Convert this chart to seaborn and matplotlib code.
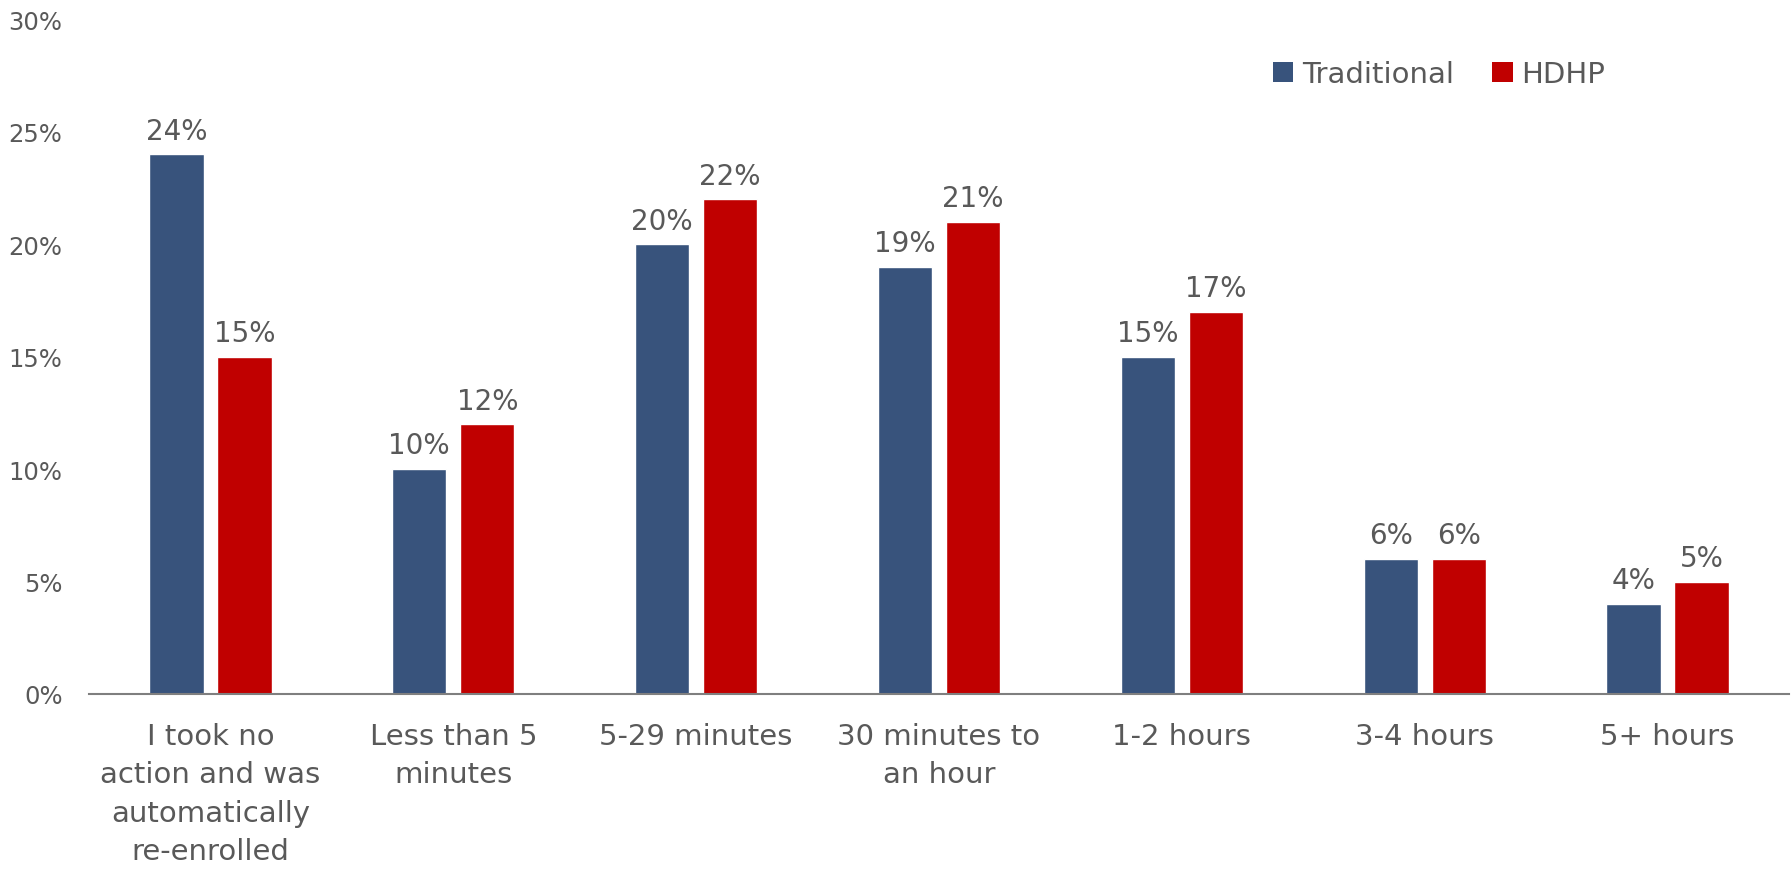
import matplotlib
matplotlib.use("Agg")
import matplotlib.pyplot as plt
import seaborn as sns
import pandas as pd
from matplotlib.patches import Patch

categories = [
    "I took no\naction and was\nautomatically\nre-enrolled",
    "Less than 5\nminutes",
    "5-29 minutes",
    "30 minutes to\nan hour",
    "1-2 hours",
    "3-4 hours",
    "5+ hours",
]
traditional = [24, 10, 20, 19, 15, 6, 4]
hdhp = [15, 12, 22, 21, 17, 6, 5]
series_names = ["Traditional", "HDHP"]
y_ticks = [0, 5, 10, 15, 20, 25, 30]

df = pd.DataFrame({
    "category": categories * 2,
    "plan": [series_names[0]] * len(categories) + [series_names[1]] * len(categories),
    "pct": traditional + hdhp,
})

sns.set_theme(style="white")
plt.rcParams["font.family"] = ["DejaVu Sans"]
text_color = "#595959"

fig = plt.figure(figsize=(17.92, 8.70), dpi=100)
ax = fig.add_axes([89 / 1792, (870 - 695) / 870, (1789 - 89) / 1792, (695 - 20.6) / 870])

palette = {"Traditional": "#38537C", "HDHP": "#C00000"}
sns.barplot(data=df, x="category", y="pct", hue="plan", order=categories,
            hue_order=series_names, palette=palette, width=0.56, gap=0.2,
            saturation=1, ax=ax, legend=False)

for container in ax.containers:
    ax.bar_label(container, fmt="%d%%", padding=7, fontsize=20, color=text_color)

ax.set_xlim(-0.5, len(categories) - 0.5)
ax.set_ylim(0, 30)
ax.set_yticks(y_ticks)
ax.set_yticklabels([f"{t}%" for t in y_ticks])
ax.set_xlabel("")
ax.set_ylabel("")
ax.tick_params(axis="y", labelsize=17.5, labelcolor=text_color, length=0, pad=19)
ax.tick_params(axis="x", labelsize=21, labelcolor=text_color, length=0, pad=20)
for lbl in ax.get_xticklabels():
    lbl.set_linespacing(1.48)

for side in ["top", "right", "left"]:
    ax.spines[side].set_visible(False)
ax.spines["bottom"].set_color("#7F7F7F")
ax.spines["bottom"].set_linewidth(1.5)

handles = [Patch(facecolor=palette[n], edgecolor="none", label=n) for n in series_names]
fig.legend(handles=handles, loc="center left", bbox_to_anchor=(1273 / 1792, 1 - 75 / 870),
           ncol=2, frameon=False, fontsize=21, labelcolor=text_color,
           handlelength=0.7, handleheight=0.7, handletextpad=0.3, columnspacing=1.3,
           borderaxespad=0, borderpad=0)

fig.savefig("out.png", dpi=100)
